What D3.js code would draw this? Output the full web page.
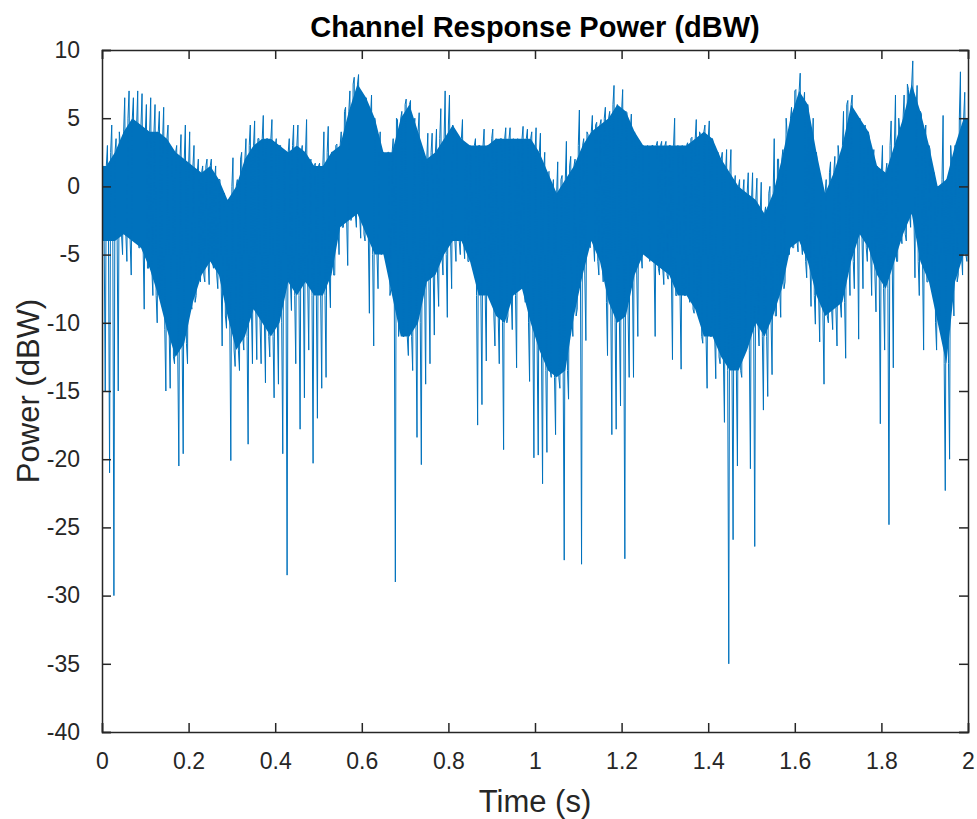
<!DOCTYPE html>
<html>
<head>
<meta charset="utf-8">
<script src="https://cdn.jsdelivr.net/npm/d3@7"></script>
<style>
  body { margin: 0; background: #fff; }
  svg { display: block; font-family: "Liberation Sans", Arial, Helvetica, sans-serif; }
</style>
</head>
<body>
<div id="root"></div>
<script>
// channel response power
// spikes per 0.01 s bin (dBW)
var peakUp = [
  1.5, 3, 4.5, 3.5, 3, 6.5, 7, 6.5, 7, 6.8,
  6, 6.5, 6, 5.5, 5.8, 4.5, 2.5, 3, 3.8, 4.5,
  4, 3, 2, 1.5, 2, 2, 1.5, 0.5, -0.5, -1,
  2.1, 0.5, 2.5, 3.5, 4.5, 4.8, 3.5, 5.2, 3.5, 4.9,
  3.5, 3, 2.5, 3.5, 4.5, 4.5, 3, 4.9, 2, 1.7,
  1.7, 4, 4.4, 2.5, 3.1, 4, 5.8, 7, 8, 8.2,
  6.6, 5.5, 6.7, 4.3, 4, 2.2, 2.5, 3.5, 4.9, 5.5,
  6.4, 6.3, 5, 5.4, 2.1, 3.9, 3.9, 4.2, 5.7, 7,
  6.7, 4.2, 3, 4.9, 3, 2.6, 3.5, 3, 4.2, 2.4,
  4.2, 3.2, 3.5, 4.3, 4.3, 3, 2.5, 4.4, 4.2, 4,
  4.3, 3.9, 2.5, 1.1, 0.5, 1.8, 0.8, 3.3, 2.2, 2,
  5.6, 3.5, 3.8, 5.2, 4.7, 4.9, 5.8, 5.5, 7.4, 5.5,
  7.1, 5.4, 5.3, 2.8, 2.8, 2.5, 2.5, 3, 3.3, 3.3,
  3.3, 3, 5, 2.8, 2.5, 3.2, 3.6, 4.9, 3.8, 4.5,
  4.8, 3, 2.5, 2.5, 2.7, 2.7, 0.8, 0.5, 0.5, 1,
  1, 0.6, 0.3, -1.5, 0, 3.5, 2, 2.7, 3.8, 5.8,
  7.1, 8.3, 6.9, 5, 5, 1.5, -0.5, 0.5, 1.8, 2.2,
  2, 5.5, 6.3, 6.7, 5, 4.5, 4.5, 3.5, 2.7, 0.6,
  3, 1.7, 4.8, 6.7, 4, 6.7, 7.1, 9.2, 7.4, 5.3,
  4.5, 2.7, 1, -0.5, 5.2, 0.5, 1.7, 2.4, 8.4, 6.9
];
var peakDown = [
  -15, -21, -30, -15, -5, -5.5, -6.5, -4, -4.5, -9,
  -6, -8, -10, -8, -15, -14.8, -13, -20.5, -19.6, -13,
  -9, -8, -7, -7, -7.2, -6, -7.5, -11.7, -10.4, -20.1,
  -13.2, -13.5, -12, -18.9, -13, -12.7, -13, -14.4, -12.5, -15.5,
  -14.5, -19.6, -28.5, -9.1, -13, -17.8, -15.5, -12, -20.3, -17,
  -14.8, -14, -8.9, -6.5, -5, -3, -5.8, -2, -3, -3.8,
  -4, -9.3, -11.7, -7.5, -4, -4.5, -7.5, -29, -10, -11,
  -12.4, -13.5, -18.4, -20.4, -14.5, -13, -10.9, -8.8, -6.5, -9.6,
  -7.5, -5.5, -5, -5.3, -5.5, -5, -17.5, -16, -12.8, -8,
  -11.7, -13, -19.3, -9.5, -10.5, -13.3, -7, -8.5, -14.3, -19.9,
  -19.7, -21.8, -19.5, -14, -18.2, -14.8, -27.4, -15.6, -11, -9,
  -27.7, -11.3, -4.5, -5.5, -6.5, -7, -12.4, -18.2, -17.8, -16.1,
  -27.3, -14, -14, -11, -6, -5, -5, -11, -6.5, -7.2,
  -6.8, -12.7, -8, -13.4, -8, -8.5, -9.3, -8, -11.5, -14.8,
  -11, -14.1, -13, -17.3, -35, -25.9, -20.5, -14, -11, -20.7,
  -26.4, -11.7, -16.4, -15.4, -13.8, -9.5, -9.6, -7, -5, -4.5,
  -4.8, -5, -6.7, -8.8, -10.1, -11.4, -14.5, -10, -10.5, -11.7,
  -9.6, -12.6, -8, -7.5, -11.2, -7.5, -5.5, -8, -9.2, -17.4,
  -12, -24.8, -13.3, -5.5, -4.2, -4, -3, -6.7, -8, -12,
  -7, -6.5, -12, -9.5, -22.3, -20, -9.5, -6.5, -6.5, -5.5
];
// dense core band per 0.02 s bin (dBW)
var coreHi = [
  1.5, 2.5, 4, 5, 4.5, 4, 4, 3.5, 2.5, 2,
  1.5, 1, 1.5, 0.5, -1, 0, 2, 3, 3.5, 3.5,
  3, 2.5, 3, 2.5, 1.5, 1.5, 2.5, 3, 5.5, 7.5,
  6.5, 5, 2.5, 2.5, 5, 6, 4, 2, 2.5, 3.5,
  4.5, 3.5, 3, 3, 3, 3.5, 3.5, 3.5, 3.5, 3.5,
  2.5, 1, -0.5, 0.5, 1.5, 3, 4, 4.5, 5, 6,
  5.5, 4, 3, 3, 3, 3, 3, 3, 3.5, 4,
  3.5, 2, 1, 0, -0.5, -1, -2, -0.5, 2, 5,
  7, 6, 2.5, -0.5, 1, 3, 6, 5, 4, 1.5,
  1, 3, 5, 7.5, 5.5, 3, 0, 0.5, 3, 5
];
var coreLo = [
  -4, -4, -3.5, -4, -4.5, -6, -8, -10.5, -12.5, -11.5,
  -8.5, -6.5, -5.5, -6.5, -9.5, -12, -11, -9, -10, -11,
  -10, -7, -8, -7, -8, -8, -6.5, -3, -2.5, -2,
  -3.5, -5, -5, -8, -11, -11, -10, -7, -6.5, -5,
  -4, -4, -5.5, -8, -8, -9.5, -10, -8, -7.5, -10,
  -12, -13.5, -14, -13.5, -9.5, -6.5, -4, -5.5, -8.5, -10,
  -9.5, -6.5, -5, -5.5, -6, -6.5, -8, -8, -9, -11,
  -11, -12.5, -13.5, -13.5, -12, -10, -11, -9.5, -7.5, -4.5,
  -4, -5.5, -8, -9.5, -9, -8.5, -5.5, -3.5, -4.5, -6.5,
  -7.5, -5.5, -3.5, -2, -5.5, -7, -10, -13, -7, -5
];
var xTicks = [0, 0.2, 0.4, 0.6, 0.8, 1, 1.2, 1.4, 1.6, 1.8, 2];
var yTicks = [10, 5, 0, -5, -10, -15, -20, -25, -30, -35, -40];

var width = 977, height = 819,
    margin = { top: 50, right: 9, bottom: 87, left: 102 },
    binW = 0.01, coreW = 0.02;
var w = width - margin.left - margin.right,
    h = height - margin.top - margin.bottom;

var x = d3.scaleLinear().domain([0, 2]).range([0, w]);
var y = d3.scaleLinear().domain([-40, 10]).range([h, 0]);

var svg = d3.select("#root").append("svg")
    .attr("width", width)
    .attr("height", height);
var g = svg.append("g")
    .attr("transform", "translate(" + margin.left + "," + margin.top + ")");

g.append("clipPath").attr("id", "clip")
  .append("rect").attr("width", w).attr("height", h);

var blue = "#0072BD";

// the dense part of the trace, drawn as a band
var band = coreHi.map(function (v, c) {
  return { t: c * coreW + coreW / 2, hi: v, lo: coreLo[c] };
});
band.unshift({ t: 0, hi: coreHi[0], lo: coreLo[0] });
band.push({ t: 2, hi: coreHi[coreHi.length - 1], lo: coreLo[coreLo.length - 1] });

var area = d3.area()
    .x(function (d) { return x(d.t); })
    .y0(function (d) { return y(d.lo); })
    .y1(function (d) { return y(d.hi); });

g.append("path")
    .datum(band)
    .attr("clip-path", "url(#clip)")
    .attr("d", area)
    .style("fill", blue)
    .style("stroke", "none");

// each bin: core top, spike up, core bottom, spike down
var pts = [];
peakUp.forEach(function (u, j) {
  var c = Math.floor(j / 2), t0 = j * binW;
  pts.push([t0, coreHi[c]]);
  pts.push([t0 + binW * 0.25, u]);
  pts.push([t0 + binW * 0.5, coreLo[c]]);
  pts.push([t0 + binW * 0.75, peakDown[j]]);
});
pts.push([2, coreHi[coreHi.length - 1]]);

var line = d3.line()
    .x(function (d) { return x(d[0]); })
    .y(function (d) { return y(d[1]); });

g.append("path")
    .datum(pts)
    .attr("clip-path", "url(#clip)")
    .attr("d", line)
    .style("fill", "none")
    .style("stroke", blue)
    .style("stroke-width", 1)
    .style("stroke-linejoin", "miter");

// axes, matlab style: ticks inside, mirrored on all sides
var axisColor = "#262626", tl = 9;
var xb = g.append("g").attr("transform", "translate(0," + h + ")")
    .call(d3.axisBottom(x).tickValues(xTicks).tickSize(-tl).tickPadding(tl + 12)
      .tickFormat(function (d) { return d3.format("")(d); }));
var xt = g.append("g")
    .call(d3.axisTop(x).tickValues(xTicks).tickSize(-tl).tickFormat(""));
var yl = g.append("g")
    .call(d3.axisLeft(y).tickValues(yTicks).tickSize(-tl).tickPadding(tl + 13)
      .tickFormat(function (d) { return d < 0 ? "-" + Math.abs(d) : d; }));
var yr = g.append("g").attr("transform", "translate(" + w + ",0)")
    .call(d3.axisRight(y).tickValues(yTicks).tickSize(-tl).tickFormat(""));

[xb, xt, yl, yr].forEach(function (a) {
  a.select(".domain").attr("stroke", axisColor).attr("stroke-width", 1.5);
  a.selectAll(".tick line").attr("stroke", axisColor).attr("stroke-width", 1.5);
  a.selectAll(".tick text")
    .attr("fill", axisColor)
    .style("font-size", "23px")
    .style("font-family", "'Liberation Sans', Arial, sans-serif");
});

svg.append("text")
    .attr("x", margin.left + w / 2)
    .attr("y", 37)
    .attr("text-anchor", "middle")
    .style("font-size", "29px")
    .style("font-weight", "bold")
    .attr("fill", "#000")
    .text("Channel Response Power (dBW)");

svg.append("text")
    .attr("x", margin.left + w / 2)
    .attr("y", 812)
    .attr("text-anchor", "middle")
    .style("font-size", "31px")
    .attr("fill", axisColor)
    .text("Time (s)");

svg.append("text")
    .attr("transform", "translate(39," + (margin.top + h / 2) + ") rotate(-90)")
    .attr("text-anchor", "middle")
    .style("font-size", "31px")
    .attr("fill", axisColor)
    .text("Power (dBW)");
</script>
</body>
</html>
